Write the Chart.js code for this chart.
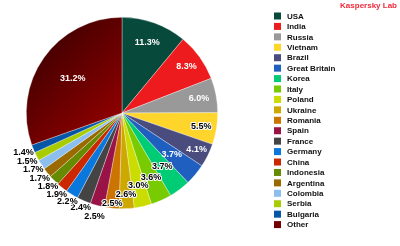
<!DOCTYPE html>
<html>
<head>
    <meta charset="UTF-8">
    <title>Kaspersky Lab - countries</title>
    <script src="https://cdn.jsdelivr.net/npm/chart.js"></script>
    <style>
        html, body { margin: 0; padding: 0; background: #fff; }
        #wrap { position: relative; width: 400px; height: 246px; }
    </style>
</head>
<body>
<div id="wrap"><canvas id="pie" width="400" height="246"></canvas></div>
<script>
    // data
    const countries = ['USA', 'India', 'Russia', 'Vietnam', 'Brazil', 'Great Britain', 'Korea', 'Italy',
        'Poland', 'Ukraine', 'Romania', 'Spain', 'France', 'Germany', 'China', 'Indonesia',
        'Argentina', 'Colombia', 'Serbia', 'Bulgaria', 'Other'];
    const shares = [11.3, 8.3, 6.0, 5.5, 4.1, 3.7, 3.7, 3.6, 3.0, 2.6, 2.5, 2.5, 2.4, 2.2, 1.9, 1.8,
        1.7, 1.7, 1.5, 1.4, 31.2];

    const colors = ['#074a3b', '#ee1b1e', '#999999', '#ffd52b', '#4a4c7e', '#1f5fbf', '#00cc76', '#77cb00',
        '#cbdc00', '#cca800', '#cc7400', '#991346', '#444444', '#0a77dc', '#cc2800', '#668a00',
        '#9a6a00', '#8cbfef', '#a8cc00', '#0656a8', '#720000'];
    // where each percentage sits, as a fraction of the radius
    const labelDist = [0.78, 0.83, 0.82, 0.84, 0.87, 0.68, 0.70, 0.74, 0.78, 0.85, 0.95, 1.12, 1.08,
        1.09, 1.09, 1.09, 1.10, 1.10, 1.11, 1.11, 0.63];
    const whiteText = ['USA', 'India', 'Russia', 'Brazil', 'Great Britain', 'Other'];

    const ctx = document.getElementById('pie').getContext('2d');

    function sliceColor(c) {
        const i = c.dataIndex;
        if (countries[i] === 'Other' && c.chart.chartArea) {
            const a = c.chart.chartArea;
            const cx = (a.left + a.right) / 2, cy = (a.top + a.bottom) / 2;
            const g = c.chart.ctx.createLinearGradient(a.left + 20, a.top + 20, cx, cy);
            g.addColorStop(0, '#420000');
            g.addColorStop(1, '#8e0000');
            return g;
        }
        return colors[i];
    }

    const pctLabels = {
        id: 'pctLabels',
        afterDatasetsDraw(chart) {
            const c = chart.ctx;
            const arcs = chart.getDatasetMeta(0).data;
            c.save();
            c.font = 'bold 9px "Liberation Sans", Arial, sans-serif';
            c.textAlign = 'center';
            c.textBaseline = 'middle';
            c.lineJoin = 'round';
            arcs.forEach((arc, i) => {
                const p = arc.getProps(['x', 'y', 'startAngle', 'endAngle', 'outerRadius'], true);
                const mid = (p.startAngle + p.endAngle) / 2;
                const r = p.outerRadius * labelDist[i];
                const x = p.x + Math.cos(mid) * r;
                const y = p.y + Math.sin(mid) * r;
                const txt = shares[i].toFixed(1) + '%';
                if (whiteText.includes(countries[i])) {
                    c.fillStyle = '#ffffff';
                } else {
                    c.strokeStyle = '#ffffff';
                    c.lineWidth = 2;
                    c.strokeText(txt, x, y);
                    c.fillStyle = '#000000';
                }
                c.fillText(txt, x, y);
            });
            c.restore();
        }
    };

    const sideLegend = {
        id: 'sideLegend',
        afterDraw(chart) {
            const c = chart.ctx;
            c.save();
            c.font = 'bold 8px "Liberation Sans", Arial, sans-serif';
            c.textBaseline = 'middle';
            countries.forEach((name, i) => {
                const y = 16 + i * 10.43;
                c.fillStyle = colors[i];
                c.fillRect(274, y - 3.5, 7, 7);
                c.fillStyle = '#111111';
                c.fillText(name, 287, y + 0.5);
            });
            c.fillStyle = '#ee2a3c';
            c.textAlign = 'right';
            c.fillText('Kaspersky Lab', 397, 6);
            c.restore();
        }
    };

    new Chart(ctx, {
        type: 'pie',
        data: {
            labels: countries,
            datasets: [{
                data: shares,
                backgroundColor: sliceColor,
                borderColor: 'rgba(255,255,255,0.55)',
                borderWidth: 0.6
            }]
        },
        options: {
            responsive: false,
            animation: false,
            layout: { padding: { left: 26, right: 182, top: 17, bottom: 37 } },
            plugins: {
                legend: { display: false },
                tooltip: { enabled: false }
            }
        },
        plugins: [pctLabels, sideLegend]
    });
</script>
</body>
</html>
